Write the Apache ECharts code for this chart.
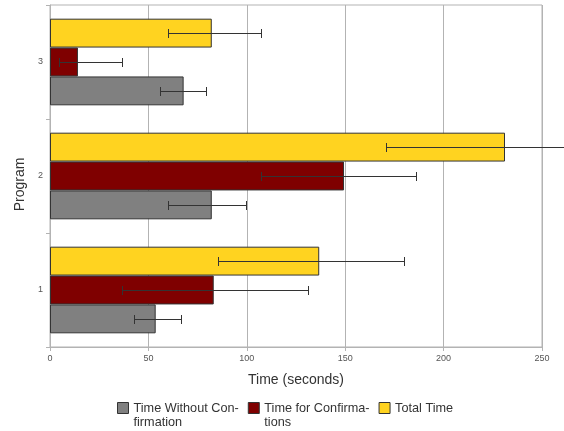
<!DOCTYPE html>
<html><head><meta charset="utf-8">
<script src="https://cdn.jsdelivr.net/npm/echarts@6/dist/echarts.min.js"></script>
<style>html,body{margin:0;padding:0;background:#fff}#c{width:564px;height:431px}</style>
</head><body><div id="c"></div>
<script>
const categories = ['1', '2', '3'];
const seriesNames = ['Time Without Con-\nfirmation', 'Time for Confirma-\ntions', 'Total Time'];
const withoutConf = [53.7, 82.2, 67.9];
const withoutConfLow = [42.5, 60.1, 55.7];
const withoutConfHigh = [66.4, 99.4, 79.3];
const forConf = [83.2, 149.4, 14.2];
const forConfLow = [36.4, 107.4, 4.7];
const forConfHigh = [131.1, 186.1, 36.4];
const totalTime = [136.8, 231.2, 82.2];
const totalTimeLow = [85.2, 170.6, 60.1];
const totalTimeHigh = [179.9, 292.0, 107.4];
const xTicks = [0, 50, 100, 150, 200, 250];

const colors = ['#808080', '#7f0000', '#ffd320'];
const GAP = 0.24;
const values = [withoutConf, forConf, totalTime];
const lows = [withoutConfLow, forConfLow, totalTimeLow];
const highs = [withoutConfHigh, forConfHigh, totalTimeHigh];

function errSeries(k) {
  return {
    type: 'custom',
    clip: false,
    silent: true,
    z: 10,
    encode: { y: 0, x: [1, 2] },
    data: categories.map((c, i) => [i, lows[k][i], highs[k][i]]),
    renderItem: function (params, api) {
      const cat = api.value(0);
      const p0 = api.coord([api.value(1), cat]);
      const p1 = api.coord([api.value(2), cat]);
      const band = api.size([0, 1])[1];
      const bw = band * (1 - GAP) / 3;
      const y = Math.round(p0[1] + (1 - k) * bw) + 0.5;
      const x0 = Math.round(p0[0]) + 0.5, x1 = Math.round(p1[0]) + 0.5;
      const st = { stroke: '#333', lineWidth: 1 };
      return {
        type: 'group',
        children: [
          { type: 'line', shape: { x1: x0, y1: y, x2: x1, y2: y }, style: st },
          { type: 'line', shape: { x1: x0, y1: y - 4.5, x2: x0, y2: y + 4.5 }, style: st },
          { type: 'line', shape: { x1: x1, y1: y - 4.5, x2: x1, y2: y + 4.5 }, style: st }
        ]
      };
    }
  };
}

// top-to-bottom within a category: Total, For Confirmations, Without Confirmation
const order = [2, 1, 0];
const barSeries = order.map(k => ({
  type: 'bar',
  name: seriesNames[k],
  data: values[k],
  barGap: '0%',
  barCategoryGap: (GAP * 100) + '%',
  itemStyle: { color: colors[k], borderColor: '#333', borderWidth: 1 }
}));

const chart = echarts.init(document.getElementById('c'), null, { renderer: 'canvas' });
chart.setOption({
  animation: false,
  color: colors,
  textStyle: { fontFamily: 'Liberation Sans' },
  grid: { left: 50, right: 22, top: 5, bottom: 84, show: true, borderColor: '#b3b3b3', borderWidth: 1 },
  legend: {
    data: seriesNames,
    left: 117, top: 387, padding: 0,
    itemWidth: 11, itemHeight: 11, itemGap: 9,
    icon: 'rect',
    itemStyle: { borderColor: '#333', borderWidth: 1 },
    formatter: function (name) {
      const parts = name.split('\n');
      return ' \n' + parts[0] + '\n' + (parts[1] || ' ');
    },
    textStyle: { fontSize: 12.7, color: '#333', lineHeight: 14, fontFamily: 'Liberation Sans' }
  },
  xAxis: {
    type: 'value', min: xTicks[0], max: xTicks[xTicks.length - 1], interval: 50,
    name: 'Time (seconds)', nameLocation: 'middle', nameGap: 26,
    nameTextStyle: { fontSize: 14, color: '#333' },
    axisLine: { show: true, lineStyle: { color: '#b3b3b3' } },
    axisTick: { show: true, length: 4, lineStyle: { color: '#b3b3b3' } },
    axisLabel: { fontSize: 9, color: '#555', margin: 7 },
    splitLine: { show: true, lineStyle: { color: '#b3b3b3' } }
  },
  yAxis: {
    type: 'category', data: categories,
    name: 'Program', nameLocation: 'middle', nameGap: 23, nameRotate: 90,
    nameTextStyle: { fontSize: 14, color: '#333', padding: [0, 17, 0, 0] },
    axisLine: { show: true, lineStyle: { color: '#b3b3b3' } },
    axisTick: { show: true, length: 4, lineStyle: { color: '#b3b3b3' } },
    axisLabel: { fontSize: 9, color: '#555', margin: 7 },
    splitLine: { show: false }
  },
  series: barSeries.concat([errSeries(0), errSeries(1), errSeries(2)])
});
</script></body></html>
